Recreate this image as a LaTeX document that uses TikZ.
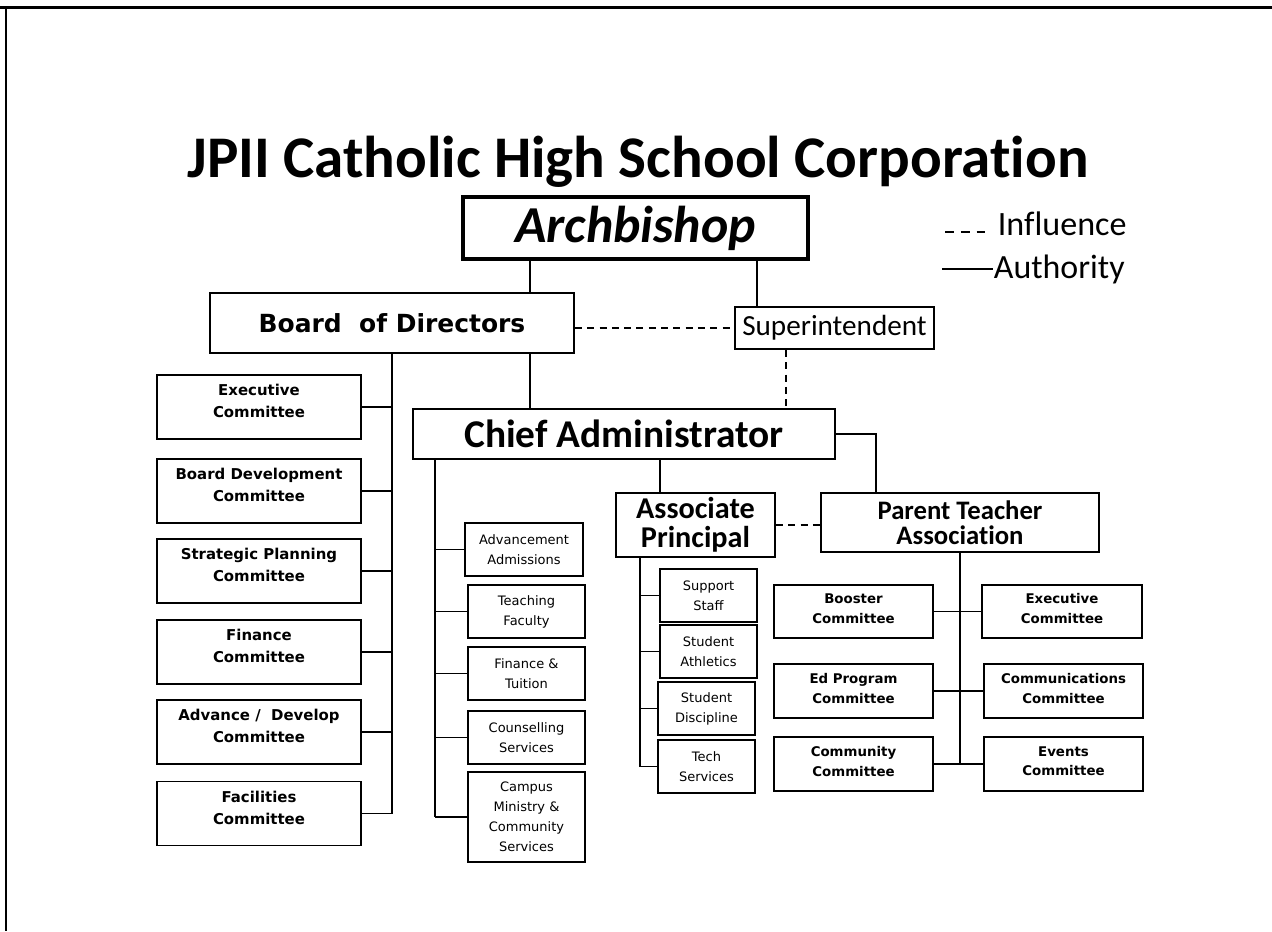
\documentclass[tikz,border=0pt]{standalone}
\usepackage{fontspec}
\setmainfont{Carlito}[Ligatures=NoCommon]
\newfontfamily\vfont{DejaVu Sans}
\begin{document}
\begin{tikzpicture}[x=0.02cm, y=-0.02cm, line width=1pt,
  orgbox/.style={draw, line width=1.1pt, inner sep=0pt, align=center},
  sz/.style 2 args={minimum width=#1*0.02cm, minimum height=#2*0.02cm},
  dashline/.style={dash pattern=on 4pt off 3pt},
  cmte/.style={orgbox, sz={204}{64}, text depth=7pt,
    font=\vfont\fontsize{8.5}{12.5}\selectfont\bfseries},
  unit/.style={orgbox, font=\vfont\fontsize{7.4}{11.3}\selectfont},
  pcmte/.style={orgbox, text depth=3.2pt,
    font=\vfont\fontsize{7.6}{11.3}\selectfont\bfseries}]
\useasboundingbox (0,0) rectangle (1272,931);

% frame
\draw[line width=1.7pt] (0,7) -- (1272,7);
\draw[line width=1.4pt] (6,7) -- (6,931);

\node[anchor=base, font=\fontsize{33.6}{40}\selectfont\bfseries] (title) at (638,177) {JPII Catholic High School Corporation};

% top of the chart
\node[orgbox, line width=2.4pt, sz={345}{62}, font=\fontsize{29.5}{32}\selectfont\bfseries\itshape] (arch) at (635.5,228) {Archbishop};
\node[orgbox, sz={364}{60}, font=\vfont\fontsize{14.2}{17}\selectfont\bfseries] (board) at (392,323) {Board\ \ of Directors};
\node[orgbox, sz={199}{42}, font=\fontsize{16.6}{20}\selectfont] (super) at (834.5,328) {Superintendent};
\node[orgbox, sz={422}{50}, font=\fontsize{22.4}{26}\selectfont\bfseries] (chief) at (624,434) {Chief Administrator};
\node[orgbox, sz={159}{64}, font=\fontsize{17.2}{16.5}\selectfont\bfseries] (assoc) at (695.5,525) {Associate\\Principal};
\node[orgbox, sz={278}{59}, font=\fontsize{15.2}{14.2}\selectfont\bfseries] (pta) at (960,522.5) {Parent Teacher\\Association};

% board committees
\node[cmte] (bexec) at (259,407) {Executive\\Committee};
\node[cmte] (bdev) at (259,491) {Board Development\\Committee};
\node[cmte] (bplan) at (259,571) {Strategic Planning\\Committee};
\node[cmte] (bfin) at (259,652) {Finance\\Committee};
\node[cmte] (badv) at (259,732) {Advance /\ \ Develop\\Committee};
\node[cmte] (bfac) at (259,813.5) {Facilities\\Committee};

% under the chief administrator
\node[unit, sz={118}{53}] (adm) at (524,549.5) {Advancement\\Admissions};
\node[unit, sz={117}{53}] (teach) at (526.5,611.5) {Teaching\\Faculty};
\node[unit, sz={117}{53}] (fint) at (526.5,673.5) {Finance \&\\Tuition};
\node[unit, sz={117}{53}] (couns) at (526.5,737.5) {Counselling\\Services};
\node[unit, sz={117}{90}] (campus) at (526.5,817) {Campus\\Ministry \&\\Community\\Services};

% under the associate principal
\node[unit, sz={97}{53}] (staff) at (708.5,595.5) {Support\\Staff};
\node[unit, sz={97}{53}] (ath) at (708.5,651.5) {Student\\Athletics};
\node[unit, sz={97}{53}] (disc) at (706.5,708.5) {Student\\Discipline};
\node[unit, sz={97}{53}] (tech) at (706.5,766.5) {Tech\\Services};

% PTA committees
\node[pcmte, sz={159}{53}] (boost) at (853.5,611.5) {Booster\\Committee};
\node[pcmte, sz={159}{54}] (edp) at (853.5,691) {Ed Program\\Committee};
\node[pcmte, sz={159}{54}] (commu) at (853.5,764) {Community\\Committee};
\node[pcmte, sz={160}{53}] (pexec) at (1062,611.5) {Executive\\Committee};
\node[pcmte, sz={159}{54}] (pcomm) at (1063.5,691) {Communications\\Committee};
\node[pcmte, sz={159}{54}] (events) at (1063.5,764) {Events\\Committee};

% legend
\node[anchor=base west, inner sep=0pt, font=\fontsize{19.4}{22}\selectfont] (lginf) at (997,235) {Influence};
\node[anchor=base west, inner sep=0pt, font=\fontsize{19.3}{22}\selectfont] (lgauth) at (993,278) {Authority};
\coordinate (li1) at (945,232);
\coordinate (li2) at (987,232);
\coordinate (la1) at (942,269);
\draw[dash pattern=on 5pt off 4pt] (li1) -- (li2);
\draw (la1) -- (la1 -| lgauth.west);

% x positions of the drop lines
\coordinate (ka) at (530,0);
\coordinate (ks) at (757,0);
\coordinate (kd) at (786,0);
\coordinate (kc) at (435,0);
\coordinate (kp) at (660,0);
\coordinate (kq) at (640,0);
\coordinate (kt) at (876,0);

\draw (arch.south -| ka) -- (board.north -| ka);
\draw (board.south -| ka) -- (chief.north -| ka);
\draw (arch.south -| ks) -- (super.north -| ks);
\draw[dashline] (board.east |- super.west) -- (super.west);
\draw[dashline] (super.south -| kd) -- (chief.north -| kd);
\draw (chief.east) -| (kt |- pta.north);
\draw (chief.south -| kp) -- (assoc.north -| kp);
\draw[dashline] (assoc.east) -- (assoc.east -| pta.west);

% board trunk
\draw (board.south) -- (board.south |- bfac.east);
\foreach \n in {bexec,bdev,bplan,bfin,badv,bfac}
  \draw (\n.east) -- (\n.east -| board.south);

% chief administrator trunk
\draw (chief.south -| kc) -- (kc |- campus.west);
\foreach \n in {adm,teach,fint,couns,campus}
  \draw (\n.west) -- (\n.west -| kc);

% associate principal trunk
\draw (assoc.south -| kq) -- (kq |- tech.west);
\foreach \n in {staff,ath,disc,tech}
  \draw (\n.west) -- (\n.west -| kq);

% PTA trunk
\draw (pta.south) -- (pta.south |- commu.east);
\draw (boost.east) -- (pexec.west);
\draw (edp.east) -- (pcomm.west);
\draw (commu.east) -- (events.west);

\end{tikzpicture}
\end{document}
